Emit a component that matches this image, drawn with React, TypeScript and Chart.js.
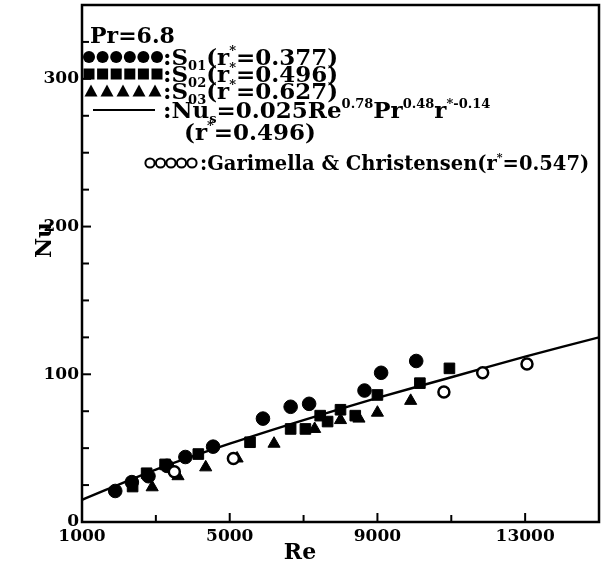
import React, { useEffect, useRef } from "react";
import { Chart, registerables } from "chart.js";

Chart.register(...registerables);

// ---- data ----
const s01Re = [1900, 2350, 2800, 3300, 3800, 4550, 5900, 6650, 7150, 8650, 9100, 10050];
const s01Nu = [21, 27, 31, 38, 44, 51, 70, 78, 80, 89, 101, 109];

const s02Re = [2370, 2750, 3250, 4150, 5550, 6650, 7050, 7450, 7650, 8000, 8400, 9000, 10150, 10950];
const s02Nu = [24, 33, 39, 46, 54, 63, 63, 72, 68, 76, 72, 86, 94, 104];

const s03Re = [2900, 3600, 4350, 5200, 6200, 7300, 8000, 8500, 9000, 9900];
const s03Nu = [23.5, 31, 37, 43, 53, 63, 69, 70, 74, 82];

const gcRe = [3500, 5100, 10800, 11850, 13050];
const gcNu = [34, 43, 88, 101, 107];

const fitRe = [1000, 3000, 5000, 7000, 9000, 11000, 13000, 15000];
const fitNu = [15, 35.5, 53, 69, 84, 98, 112, 125];

const xLabelTicks = [1000, 5000, 9000, 13000];
const yLabelTicks = [0, 100, 200, 300];

const FONT = "'DejaVu Serif', 'Liberation Serif', serif";

const pts = (xs: number[], ys: number[]) => xs.map((x, i) => ({ x, y: ys[i] }));

type Seg = { t: string; s?: "sup" | "sub" };

function drawRich(ctx: CanvasRenderingContext2D, x: number, y: number, segs: Seg[], size: number) {
  let cx = x;
  for (const g of segs) {
    if (g.s) {
      const fs = Math.round(size * 0.58);
      ctx.font = `bold ${fs}px ${FONT}`;
      const dy = g.s === "sup" ? -size * 0.45 : size * 0.22;
      ctx.fillText(g.t, cx, y + dy);
      cx += ctx.measureText(g.t).width;
    } else {
      ctx.font = `bold ${size}px ${FONT}`;
      ctx.fillText(g.t, cx, y);
      cx += ctx.measureText(g.t).width;
    }
  }
  return cx;
}

const framePlugin = {
  id: "frameTicks",
  afterDraw(chart: any) {
    const { ctx, chartArea: a, scales } = chart;
    ctx.save();
    ctx.strokeStyle = "#000";
    ctx.fillStyle = "#000";
    ctx.lineWidth = 2.5;
    ctx.strokeRect(a.left, a.top, a.right - a.left, a.bottom - a.top);
    ctx.lineWidth = 2;
    const xs = scales.x;
    for (const t of xs.ticks) {
      const px = xs.getPixelForValue(t.value);
      const len = xLabelTicks.includes(t.value) ? 9 : 7;
      ctx.beginPath();
      ctx.moveTo(px, a.bottom);
      ctx.lineTo(px, a.bottom - len);
      ctx.stroke();
    }
    const ys = scales.y;
    for (const t of ys.ticks) {
      const py = ys.getPixelForValue(t.value);
      const len = yLabelTicks.includes(t.value) ? 9 : 7;
      ctx.beginPath();
      ctx.moveTo(a.left, py);
      ctx.lineTo(a.left + len, py);
      ctx.stroke();
    }

    // axis titles
    ctx.font = `bold 22px ${FONT}`;
    ctx.textAlign = "center";
    ctx.textBaseline = "middle";
    ctx.fillText("Re", 300, 553);
    ctx.save();
    ctx.translate(45, 240);
    ctx.rotate(-Math.PI / 2);
    ctx.fillText("Nu", 0, 0);
    ctx.restore();

    // legend
    ctx.textAlign = "left";
    ctx.textBaseline = "alphabetic";
    const size = 23;
    const tx = 163;
    drawRich(ctx, 90, 43, [{ t: "Pr=6.8" }], 22);

    const rowC = [57, 74, 91, 110, 132, 163];
    const base = (c: number) => c + 8;
    for (let i = 0; i < 6; i++) {
      const cx = 89 + i * 13.6;
      ctx.beginPath();
      ctx.arc(cx, rowC[0], 6, 0, Math.PI * 2);
      ctx.fill();
      ctx.fillRect(cx - 5.5, rowC[1] - 5.5, 11, 11);
    }
    for (let i = 0; i < 5; i++) {
      const cx = 91 + i * 16;
      const cy = rowC[2];
      ctx.beginPath();
      ctx.moveTo(cx, cy - 6.5);
      ctx.lineTo(cx + 6.5, cy + 5.5);
      ctx.lineTo(cx - 6.5, cy + 5.5);
      ctx.closePath();
      ctx.fill();
    }
    ctx.lineWidth = 2;
    ctx.beginPath();
    ctx.moveTo(93, rowC[3]);
    ctx.lineTo(155, rowC[3]);
    ctx.stroke();
    for (let i = 0; i < 5; i++) {
      ctx.beginPath();
      ctx.arc(150 + i * 10.5, rowC[5], 4.6, 0, Math.PI * 2);
      ctx.stroke();
    }

    drawRich(ctx, tx, base(rowC[0]), [{ t: ":S" }, { t: "01", s: "sub" }, { t: "(r" }, { t: "*", s: "sup" }, { t: "=0.377)" }], size);
    drawRich(ctx, tx, base(rowC[1]), [{ t: ":S" }, { t: "02", s: "sub" }, { t: "(r" }, { t: "*", s: "sup" }, { t: "=0.496)" }], size);
    drawRich(ctx, tx, base(rowC[2]), [{ t: ":S" }, { t: "03", s: "sub" }, { t: "(r" }, { t: "*", s: "sup" }, { t: "=0.627)" }], size);
    drawRich(ctx, tx, base(rowC[3]), [
      { t: ":Nu" }, { t: "s", s: "sub" }, { t: "=0.025Re" }, { t: "0.78", s: "sup" },
      { t: "Pr" }, { t: "0.48", s: "sup" }, { t: "r" }, { t: "*-0.14", s: "sup" },
    ], size);
    drawRich(ctx, 184, base(rowC[4]), [{ t: "(r" }, { t: "*", s: "sup" }, { t: "=0.496)" }], size);
    drawRich(ctx, 200, base(rowC[5]) - 1, [{ t: ":Garimella & Christensen(r" }, { t: "*", s: "sup" }, { t: "=0.547)" }], 19.5);
    ctx.restore();
  },
};

export default function App() {
  const ref = useRef<HTMLCanvasElement | null>(null);
  useEffect(() => {
    document.body.style.margin = "0";
    const canvas = ref.current!;
    const chart = new Chart(canvas, {
      type: "scatter",
      data: {
        datasets: [
          {
            type: "line",
            label: "fit",
            data: pts(fitRe, fitNu),
            borderColor: "#000",
            borderWidth: 2.4,
            pointRadius: 0,
            tension: 0.3,
            order: 10,
          } as any,
          {
            label: "S01",
            data: pts(s01Re, s01Nu),
            pointStyle: "circle",
            pointRadius: 6.8,
            backgroundColor: "#000",
            borderColor: "#000",
            borderWidth: 1,
            order: 1,
          },
          {
            label: "S02",
            data: pts(s02Re, s02Nu),
            pointStyle: "rect",
            pointRadius: 7.5,
            backgroundColor: "#000",
            borderColor: "#000",
            borderWidth: 1,
            order: 1,
          },
          {
            label: "S03",
            data: pts(s03Re, s03Nu),
            pointStyle: "triangle",
            pointRadius: 7,
            backgroundColor: "#000",
            borderColor: "#000",
            borderWidth: 1,
            order: 1,
          },
          {
            label: "Garimella",
            data: pts(gcRe, gcNu),
            pointStyle: "circle",
            pointRadius: 5.5,
            backgroundColor: "#fff",
            borderColor: "#000",
            borderWidth: 2.5,
            order: 0,
          },
        ],
      },
      options: {
        responsive: false,
        animation: false,
        events: [],
        layout: { autoPadding: false, padding: { top: 5, right: 3, left: 0, bottom: 0 } },
        plugins: { legend: { display: false }, tooltip: { enabled: false } },
        scales: {
          x: {
            type: "linear",
            min: 1000,
            max: 15000,
            afterFit: (s: any) => {
              s.height = 47;
              s.paddingLeft = 0;
              s.paddingRight = 0;
            },
            ticks: {
              stepSize: 2000,
              autoSkip: false,
              maxRotation: 0,
              padding: 4,
              color: "#000",
              font: { family: FONT, size: 17, weight: "bold" },
              callback: (v: any) => (xLabelTicks.includes(v) ? String(v) : ""),
            },
            grid: { display: false, drawTicks: false },
            border: { display: false },
          },
          y: {
            type: "linear",
            min: 0,
            max: 350,
            afterFit: (s: any) => {
              s.width = 82;
              s.paddingTop = 0;
              s.paddingBottom = 0;
            },
            ticks: {
              stepSize: 25,
              autoSkip: false,
              padding: 3,
              color: "#000",
              font: { family: FONT, size: 17, weight: "bold" },
              callback: (v: any) => (yLabelTicks.includes(v) ? String(v) : ""),
            },
            grid: { display: false, drawTicks: false },
            border: { display: false },
          },
        },
      },
      plugins: [framePlugin],
    });
    return () => chart.destroy();
  }, []);
  return (
    <div style={{ width: 602, height: 569, background: "#fff" }}>
      <canvas ref={ref} width={602} height={569} style={{ display: "block" }} />
    </div>
  );
}
